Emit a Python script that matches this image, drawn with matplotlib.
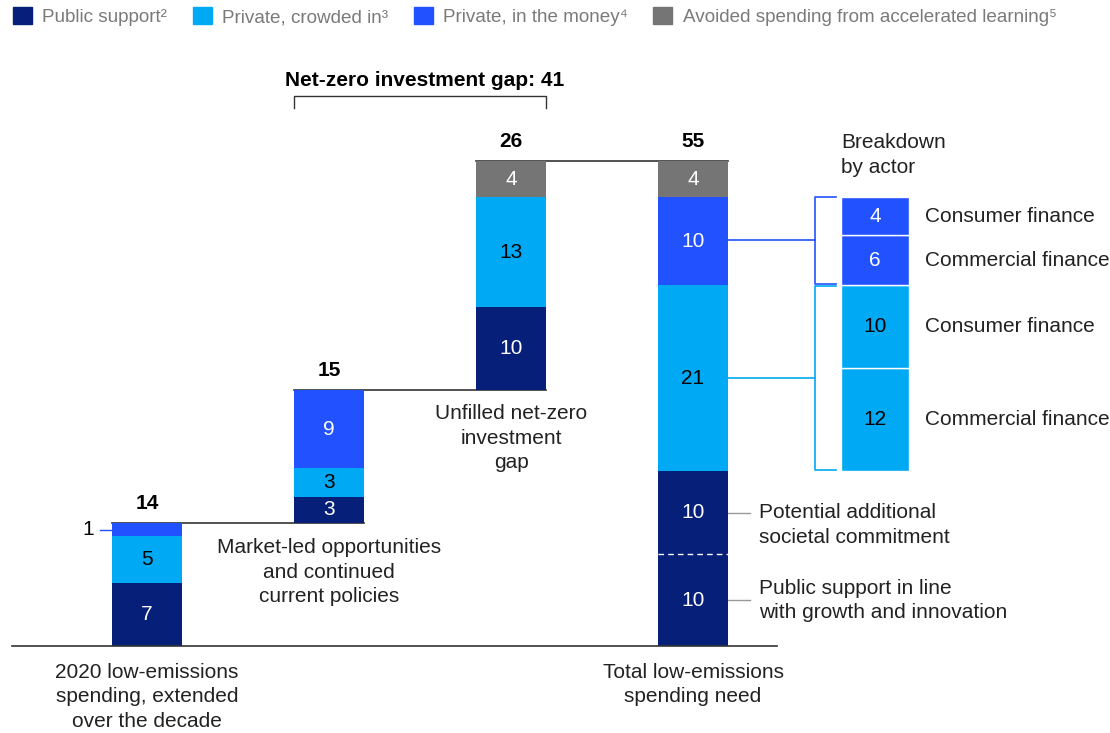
import matplotlib.pyplot as plt
from matplotlib.patches import Patch

plt.rcParams['font.family'] = ['Liberation Sans', 'DejaVu Sans']

# Waterfall values ($ trillion, heights; labels are the rounded figures)
steps = ['2020 low-emissions\nspending, extended\nover the decade',
         'Market-led opportunities\nand continued\ncurrent policies',
         'Unfilled net-zero\ninvestment\ngap',
         'Total low-emissions\nspending need']
totals = [14, 15, 26, 55]
public = [7.2, 2.9, 9.4, 0]
crowded = [5.3, 3.3, 12.5, 21.1]
money = [1.5, 8.8, 0, 10.0]
avoided = [0, 0, 4.1, 4.1]
public_lbl = ['7', '3', '10', '']
crowded_lbl = ['5', '3', '13', '21']
money_lbl = ['', '9', '', '10']
avoided_lbl = ['', '', '4', '4']

# Public support in the total bar, split in two
public_split = [10.4, 9.4]
public_split_lbl = ['10', '10']
public_split_txt = ['Public support in line\nwith growth and innovation',
                    'Potential additional\nsocietal commitment']

# Breakdown by actor (bottom to top)
bd_values = [11.7, 9.4, 5.7, 4.3]
bd_labels = ['12', '10', '6', '4']
bd_names = ['Commercial finance', 'Consumer finance', 'Commercial finance', 'Consumer finance']
bd_kind = ['crowded', 'crowded', 'money', 'money']

legend_labels = ['Public support²', 'Private, crowded in³', 'Private, in the money⁴',
                 'Avoided spending from accelerated learning⁵']

navy = '#061f79'
cyan = '#00a9f4'
blue = '#2251ff'
grey = '#757575'
colors = {'public': navy, 'crowded': cyan, 'money': blue, 'avoided': grey}
txtcol = {'public': 'white', 'crowded': 'black', 'money': 'white', 'avoided': 'white'}

fig = plt.figure(figsize=(11.1, 7.33), dpi=100)
ax = fig.add_axes([0, 0, 1, 1])
ax.set_xlim(-147 / 182, (1110 - 147) / 182)
ax.set_ylim(-(733 - 646) / 8.818, 646 / 8.818)
ax.axis('off')

w = 0.385
fs = 15
ls = 1.36

# waterfall bars
start = 0
tops = []
for i in range(4):
    b = start if i < 3 else 0
    segs = [('public', public[i], public_lbl[i]), ('crowded', crowded[i], crowded_lbl[i]),
            ('money', money[i], money_lbl[i]), ('avoided', avoided[i], avoided_lbl[i])]
    if i == 3:
        # split public segment
        for v, lbl in zip(public_split, public_split_lbl):
            ax.bar(i, v, w, bottom=b, color=navy, zorder=3)
            ax.text(i, b + v / 2, lbl, ha='center', va='center', color='white', fontsize=fs, zorder=4)
            b += v
    for kind, v, lbl in segs:
        if v == 0:
            continue
        ax.bar(i, v, w, bottom=b, color=colors[kind], zorder=3)
        if lbl:
            ax.text(i, b + v / 2, lbl, ha='center', va='center', color=txtcol[kind], fontsize=fs, zorder=4)
        b += v
    tops.append(b)
    if i < 3:
        start = b

for i in range(4):
    ax.text(i, tops[i] + 2.2, str(totals[i]), ha='center', va='center', fontsize=fs,
            fontweight='bold', color='black')

# connector lines between bars
for i in range(3):
    ax.plot([i - w / 2, i + 1 + w / 2], [tops[i], tops[i]], color='#333333', lw=1.2, zorder=2)

# baseline
ax.plot([(12 - 147) / 182, (777 - 147) / 182], [0, 0], color='#333333', lw=1.2, zorder=5)

# dashed split line in total bar
ax.plot([3 - w / 2, 3 + w / 2], [public_split[0]] * 2, color='white', lw=1, ls=(0, (4, 3)), zorder=5)

# small "1" label on the first bar
ax.text(-0.29, 13.2, '1', ha='right', va='center', fontsize=fs, color='black')
ax.plot([-0.26, -w / 2], [13.2, 13.2], color=blue, lw=1)

# category labels
label_y = [-1.9, 12.2, 27.4, -1.9]
for i in range(4):
    ax.text(i, label_y[i], steps[i], ha='center', va='top', fontsize=fs, linespacing=ls,
            color='#222222')

# annotations for the public split
ann_y = [5.15, 13.7]
line_y = [5.2, 15.1]
for ty, ly, t in zip(ann_y, line_y, public_split_txt):
    ax.plot([3 + w / 2, 3.313], [ly, ly], color='#999999', lw=1)
    ax.text(3.363, ty, t, ha='left', va='center', fontsize=fs, linespacing=ls, color='#222222')

# net-zero gap bracket
ax.text(1.527, 64.1, 'Net-zero investment gap: 41', ha='center', va='center', fontsize=fs,
        fontweight='bold', color='black')
ax.plot([1 - w / 2, 1 - w / 2, 2 + w / 2, 2 + w / 2], [61.0, 62.4, 62.4, 61.0], color='#333333', lw=1)

# breakdown by actor
ax.text(3.813, 55.7, 'Breakdown\nby actor', ha='left', va='center', fontsize=fs, linespacing=ls,
        color='#222222')
bw = 0.374
b = 19.8
for v, lbl, name, kind in zip(bd_values, bd_labels, bd_names, bd_kind):
    ax.bar(4, v, bw, bottom=b, color=colors[kind], edgecolor='white', lw=1, zorder=3)
    ax.text(4, b + v / 2, lbl, ha='center', va='center', color=txtcol[kind], fontsize=fs, zorder=4)
    ax.text(4.275, b + v / 2, name, ha='left', va='center', fontsize=fs, color='#222222')
    b += v

# brackets linking the total bar to the breakdown
bx0, bx1 = 3.670, 3.785
for lo, hi, mid, c in [(20.0, 40.8, 30.4, cyan), (41.0, 50.9, 46.0, blue)]:
    ax.plot([bx1, bx0, bx0, bx1], [lo, lo, hi, hi], color=c, lw=1.2)
    ax.plot([3 + w / 2, bx0], [mid, mid], color=c, lw=1.2)

# legend
handles = [Patch(color=c) for c in [navy, cyan, blue, grey]]
fig.legend(handles, legend_labels, loc='upper left', bbox_to_anchor=(0.0, 1.008), ncol=4,
           frameon=False, fontsize=13.6, labelcolor='#7a7a7a', handlelength=1.0, handleheight=1.0,
           handletextpad=0.55, columnspacing=1.35, borderaxespad=0.3)

fig.savefig('out.png', dpi=100)
